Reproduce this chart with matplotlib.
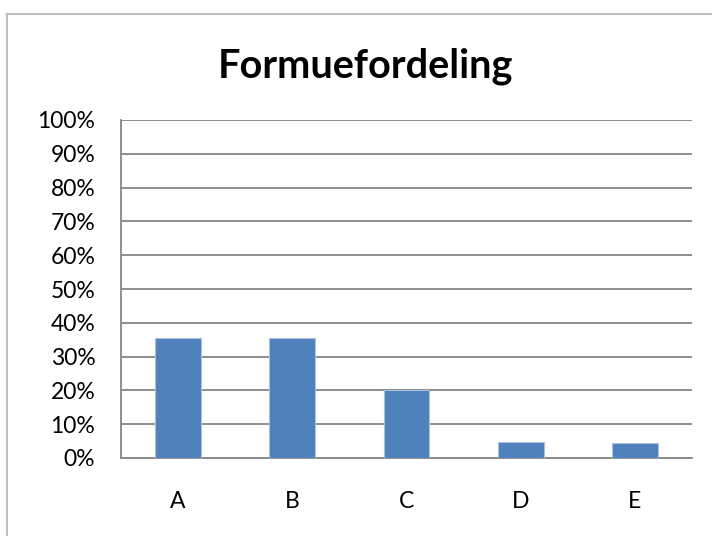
import matplotlib.pyplot as plt
from matplotlib.patches import Rectangle
from matplotlib.ticker import PercentFormatter
import numpy as np

categories = ['A', 'B', 'C', 'D', 'E']
values = [0.355, 0.355, 0.20, 0.048, 0.044]
yticks = np.arange(0, 1.01, 0.1)

plt.rcParams['font.family'] = ['Lato', 'DejaVu Sans']

fig = plt.figure(figsize=(7.12, 5.36), dpi=100)
# chart area frame (Excel style)
fig.patches.append(Rectangle((7 / 712, -0.1), 1.2, 1 - 14 / 536 + 0.1,
                             transform=fig.transFigure, fill=False,
                             edgecolor='#bfbfbf', linewidth=1.5))

ax = fig.add_axes([121 / 712, 1 - 458 / 536, 571 / 712, 338 / 536])
x = np.arange(len(categories))
ax.bar(x, values, width=0.4, color='#4f81bd', edgecolor='#a9c1e0',
       linewidth=0.8, zorder=3)

ax.set_xlim(-0.5, len(categories) - 0.5)
ax.set_ylim(0, 1)
ax.set_yticks(yticks)
ax.yaxis.set_major_formatter(PercentFormatter(1.0, decimals=0))
ax.set_xticks(x)
ax.set_xticklabels(categories)
ax.tick_params(axis='both', length=0, labelsize=16.5, colors='black')
ax.tick_params(axis='x', pad=24)
ax.tick_params(axis='y', pad=18.5)

ax.grid(axis='y', color='#868686', linewidth=1.3, zorder=0)
for side in ['top', 'right']:
    ax.spines[side].set_visible(False)
for side in ['left', 'bottom']:
    ax.spines[side].set_color('#868686')
    ax.spines[side].set_linewidth(1.3)

fig.text(365 / 712, 1 - 66 / 536, 'Formuefordeling',
         ha='center', va='center', fontsize=28.5, fontweight='bold')

fig.savefig('out.png', dpi=100)
